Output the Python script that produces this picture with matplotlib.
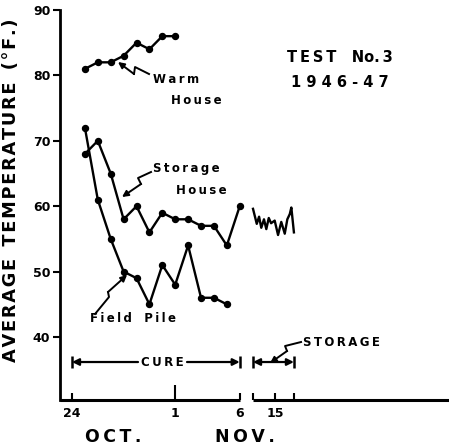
import matplotlib
matplotlib.use("Agg")
import matplotlib.pyplot as plt

# ---- data (x = days after Oct 24; storage segment continues after axis break) ----
warm_days = [1, 2, 3, 4, 5, 6, 7, 8]
warm_temp = [81, 82, 82, 83, 85, 84, 86, 86]

storage_days = [1, 2, 3, 4, 5, 6, 7, 8, 9, 10, 11, 12, 13]
storage_temp = [68, 70, 65, 58, 60, 56, 59, 58, 58, 57, 57, 54, 60]

field_days = [1, 2, 3, 4, 5, 6, 7, 8, 9, 10, 11, 12]
field_temp = [72, 61, 55, 50, 49, 45, 51, 48, 54, 46, 46, 45]

store_pos = [14.03, 14.32, 14.5, 14.67, 14.88, 15.06, 15.25, 15.43, 15.71, 15.97,
             16.22, 16.49, 16.69, 16.88, 17.0, 17.2]
store_temp = [59.6, 57.3, 58.4, 56.7, 58.0, 56.5, 58.2, 57.4, 57.8, 55.6,
              57.6, 55.8, 58.0, 58.8, 59.8, 56.0]

xtick_pos = [0, 8, 13, 15.74]
xtick_labels = ["24", "1", "6", "15"]
xminor_pos = [14.03, 17.2]
ytick_vals = [40, 50, 60, 70, 80, 90]

BOLD = dict(fontweight="bold", family="DejaVu Sans", color="black")

def sp(s, sep="\u2009"):
    return sep.join(s)

fig = plt.figure(figsize=(4.49, 4.48), dpi=100)
ax = fig.add_axes([60 / 449, 48 / 448, 389 / 449, 390 / 448])
ax.set_xlim(-0.93, 29.22)
ax.set_ylim(30.37, 90)

# pixel -> data helper for annotations
def P(px, py):
    return ((px - 72) / 12.9, 90 - (py - 10) / 6.54)

lw = 1.7
ms = 4.3
ax.plot(warm_days, warm_temp, color="black", lw=lw, marker="o", ms=ms)
ax.plot(storage_days, storage_temp, color="black", lw=lw, marker="o", ms=ms)
ax.plot(field_days, field_temp, color="black", lw=lw, marker="o", ms=ms)
ax.plot(store_pos, store_temp, color="black", lw=lw)

# spines
for s in ["top", "right", "bottom"]:
    ax.spines[s].set_visible(False)
ax.spines["left"].set_linewidth(2)
ax.plot([-0.93, 13], [30.37, 30.37], color="black", lw=2.2, clip_on=False, solid_capstyle="butt")
ax.plot([14.03, 29.22], [30.37, 30.37], color="black", lw=2.2, clip_on=False, solid_capstyle="butt")

ax.set_yticks(ytick_vals)
ax.set_yticklabels([str(v) for v in ytick_vals], fontsize=9, fontweight="bold")
ax.tick_params(axis="y", direction="out", length=5, width=1.5, pad=2)

ax.set_xticks(xtick_pos)
ax.set_xticklabels(xtick_labels, fontsize=9, fontweight="bold")
ax.set_xticks(xminor_pos, minor=True)
ax.tick_params(axis="x", which="both", direction="in", length=5, width=1.5, pad=5)
ax.xaxis.get_major_ticks()[1].tick1line.set_markersize(11)

ax.set_ylabel(sp("AVERAGE", "\u200a") + "  " + sp("TEMPERATURE", "\u200a") + "  " + sp("(°F.)", "\u200a"),
              fontsize=12.8, **BOLD)
ax.yaxis.set_label_coords(-0.103, (400 - 190) / 390)

# month labels
fig.text(113 / 449, 1 - 437 / 448, sp("OCT."), fontsize=12.5, ha="center", va="center", **BOLD)
fig.text(245 / 449, 1 - 437 / 448, sp("NOV."), fontsize=12.5, ha="center", va="center", **BOLD)

# titles
ax.text(*P(340, 57), sp("TEST") + "   No.\u20093", fontsize=10.5, ha="center", va="center", **BOLD)
ax.text(*P(340, 82), sp("1946-47", " "), fontsize=10.5, ha="center", va="center", **BOLD)

# series labels
FS = 8.5
ax.text(*P(153, 79), sp("Warm"), fontsize=FS, ha="left", va="center", **BOLD)
ax.text(*P(171, 100), sp("House"), fontsize=FS, ha="left", va="center", **BOLD)
ax.text(*P(153, 168), sp("Storage"), fontsize=FS, ha="left", va="center", **BOLD)
ax.text(*P(176, 190), sp("House"), fontsize=FS, ha="left", va="center", **BOLD)
ax.text(*P(90, 318), sp("Field") + "   " + sp("Pile"), fontsize=FS, ha="left", va="center", **BOLD)
ax.text(*P(162, 362), sp("CURE"), fontsize=FS, ha="center", va="center", **BOLD)
ax.text(*P(303, 342), sp("STORAGE"), fontsize=FS, ha="left", va="center", **BOLD)

# lightning pointer arrows
def bolt(pts):
    dpts = [P(*p) for p in pts]
    xs = [p[0] for p in dpts[:-1]]
    ys = [p[1] for p in dpts[:-1]]
    ax.plot(xs, ys, color="black", lw=1.4)
    ax.annotate("", xy=dpts[-1], xytext=dpts[-2],
                arrowprops=dict(arrowstyle="-|>", color="black", lw=1.4,
                                mutation_scale=9, shrinkA=0, shrinkB=0))

bolt([(149, 74), (135, 67), (134, 74), (118, 62)])
bolt([(151, 172), (138, 178), (141, 184), (122, 197)])
bolt([(95, 314), (109, 297), (108, 292), (127, 275)])
bolt([(301, 342), (285, 346), (287, 351), (270, 363)])

# cure / storage range arrows
yc = P(0, 362)[1]
for a, b in [((138 - 72) / 12.9, 0), ((187 - 72) / 12.9, 13)]:
    ax.annotate("", xy=(b, yc), xytext=(a, yc),
                arrowprops=dict(arrowstyle="-|>", color="black", lw=1.6,
                                mutation_scale=10, shrinkA=0, shrinkB=0))
ax.annotate("", xy=(14.03, yc), xytext=(17.2, yc),
            arrowprops=dict(arrowstyle="<|-|>", color="black", lw=1.6,
                            mutation_scale=10, shrinkA=0, shrinkB=0))
ax.plot([0, 13, 14.03, 17.2], [yc] * 4, ls="none", marker="|", ms=9, mew=1.8, color="black")

fig.savefig("out.png", dpi=100)
